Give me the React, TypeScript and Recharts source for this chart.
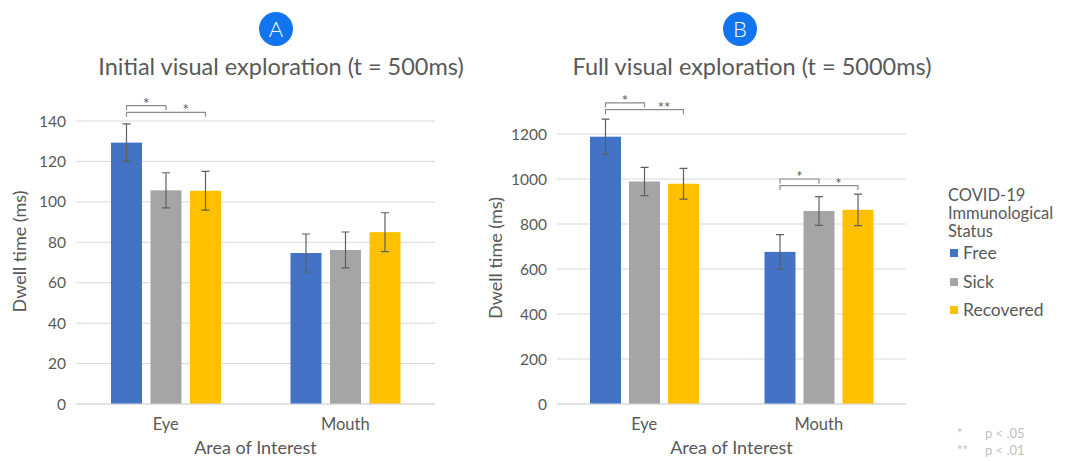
import { Bar, BarChart, CartesianGrid, XAxis, YAxis } from "recharts"

const categories = ["Eye", "Mouth"]

const initialFree = [129.3, 74.7]
const initialFreeErr = [9.3, 9.4]
const initialSick = [105.7, 76.2]
const initialSickErr = [8.7, 8.9]
const initialRecovered = [105.5, 85.0]
const initialRecoveredErr = [9.6, 9.6]

const fullFree = [1188, 676]
const fullFreeErr = [78, 77]
const fullSick = [989, 858]
const fullSickErr = [63, 64]
const fullRecovered = [979, 863]
const fullRecoveredErr = [68, 70]

const initialTicks = [0, 20, 40, 60, 80, 100, 120, 140]
const fullTicks = [0, 200, 400, 600, 800, 1000, 1200]

// significance brackets: start at Free, end `step` bars to the right
const initialBrackets = [
  { category: "Eye", step: 1, level: 147.6, label: "*" },
  { category: "Eye", step: 2, level: 144.3, label: "*" },
]
const fullBrackets = [
  { category: "Eye", step: 1, level: 1338, label: "*" },
  { category: "Eye", step: 2, level: 1308, label: "**" },
  { category: "Mouth", step: 1, level: 1000, label: "*" },
  { category: "Mouth", step: 2, level: 971, label: "*" },
]

const SERIES = [
  { key: "free", name: "Free", color: "#4472c4" },
  { key: "sick", name: "Sick", color: "#a5a5a5" },
  { key: "recovered", name: "Recovered", color: "#ffc000" },
]

const TEXT = "#595959"
const FONT = "Lato, 'Open Sans', sans-serif"

function buildData(free, freeErr, sick, sickErr, rec, recErr) {
  return categories.map((category, i) => ({
    category,
    free: free[i],
    freeErr: freeErr[i],
    sick: sick[i],
    sickErr: sickErr[i],
    recovered: rec[i],
    recoveredErr: recErr[i],
  }))
}

const initialData = buildData(
  initialFree, initialFreeErr, initialSick, initialSickErr, initialRecovered, initialRecoveredErr
)
const fullData = buildData(fullFree, fullFreeErr, fullSick, fullSickErr, fullRecovered, fullRecoveredErr)

/**
 * Bar shape with its error whisker (and, for Free, the significance brackets).
 * Everything is placed with the bar's own scale so the y domain stays fixed.
 */
function makeShape(key, brackets, barGap) {
  return (props) => {
    const { x, y, width, height, fill, payload } = props
    const base = y + height
    const pxPerUnit = height / payload[key]
    const toY = (v) => base - v * pxPerUnit
    const center = x + width / 2
    const step = width + barGap
    const err = payload[`${key}Err`]
    const hi = toY(payload[key] + err)
    const lo = toY(payload[key] - err)
    return (
      <g>
        <rect x={x} y={y} width={width} height={height} fill={fill} />
        <path
          d={`M${center},${hi}V${lo}M${center - 4},${hi}H${center + 4}M${center - 4},${lo}H${center + 4}`}
          stroke="#5f5f5f"
          strokeWidth={1.2}
          fill="none"
        />
        {key === "free" &&
          brackets
            .filter((b) => b.category === payload.category)
            .map((b, i) => {
              const by = toY(b.level)
              const x2 = center + b.step * step
              const lx = center + (b.step - 0.5) * step
              return (
                <g key={i}>
                  <path
                    d={`M${center},${by + 4.5}V${by}H${x2}V${by + 4.5}`}
                    fill="none"
                    stroke="#8c8c8c"
                    strokeWidth={1.2}
                  />
                  <text
                    x={lx}
                    y={by + 3}
                    textAnchor="middle"
                    fontSize={15}
                    fill={TEXT}
                    fontFamily={FONT}
                  >
                    {b.label}
                  </text>
                </g>
              )
            })}
      </g>
    )
  }
}

function Panel({ data, ticks, brackets, left, width, margin, yAxisWidth, barSize, barGap }) {
  return (
    <div style={{ position: "absolute", left, top: 0 }}>
      <BarChart
        width={width}
        height={461}
        data={data}
        margin={margin}
        barSize={barSize}
        barGap={barGap}
        style={{ fontFamily: FONT }}
      >
        <CartesianGrid vertical={false} stroke="#d9d9d9" />
        <XAxis
          dataKey="category"
          axisLine={{ stroke: "#d9d9d9" }}
          tickLine={false}
          tickMargin={8}
          height={50}
          tick={{ fill: TEXT, fontSize: 16.5 }}
          label={{ value: "Area of Interest", position: "insideBottom", offset: 0, fill: TEXT, fontSize: 18 }}
        />
        <YAxis
          domain={[0, ticks[ticks.length - 1]]}
          ticks={ticks}
          interval={0}
          axisLine={false}
          tickLine={false}
          tickMargin={4}
          width={yAxisWidth}
          tick={{ fill: TEXT, fontSize: 15.5 }}
          label={{
            value: "Dwell time (ms)",
            angle: -90,
            position: "insideLeft",
            offset: 4,
            dy: -11,
            fill: TEXT,
            fontSize: 18,
            style: { textAnchor: "middle" },
          }}
        />
        {SERIES.map((s) => (
          <Bar
            key={s.key}
            dataKey={s.key}
            name={s.name}
            fill={s.color}
            isAnimationActive={false}
            shape={makeShape(s.key, brackets, barGap)}
          />
        ))}
      </BarChart>
    </div>
  )
}

function Badge({ letter, cx }) {
  return (
    <div
      style={{
        position: "absolute",
        left: cx - 17,
        top: 12,
        width: 34,
        height: 34,
        borderRadius: "50%",
        background: "#1175f0",
        color: "#fff",
        fontSize: 22,
        lineHeight: "34px",
        textAlign: "center",
        fontFamily: FONT,
        fontWeight: 300,
      }}
    >
      {letter}
    </div>
  )
}

function Title({ text, cx }) {
  return (
    <div
      style={{
        position: "absolute",
        left: cx - 250,
        width: 500,
        top: 52,
        textAlign: "center",
        fontSize: 23.5,
        color: TEXT,
        fontFamily: FONT,
        whiteSpace: "nowrap",
      }}
    >
      {text}
    </div>
  )
}

export default function App() {
  return (
    <div
      style={{
        position: "absolute",
        left: 0,
        top: 0,
        width: 1067,
        height: 461,
        background: "#fff",
        fontFamily: FONT,
        overflow: "hidden",
      }}
    >
      <Panel
        data={initialData}
        ticks={initialTicks}
        brackets={initialBrackets}
        left={0}
        width={460}
        margin={{ top: 121, right: 25, bottom: 7, left: 16 }}
        yAxisWidth={60}
        barSize={31}
        barGap={8.5}
      />
      <Panel
        data={fullData}
        ticks={fullTicks}
        brackets={fullBrackets}
        left={470}
        width={930 - 470}
        margin={{ top: 134, right: 24, bottom: 7, left: 22 }}
        yAxisWidth={65}
        barSize={31}
        barGap={8}
      />
      <Badge letter="A" cx={276} />
      <Badge letter="B" cx={740} />
      <Title text="Initial visual exploration (t = 500ms)" cx={281} />
      <Title text="Full visual exploration (t = 5000ms)" cx={752} />

      <div style={{ position: "absolute", left: 948, top: 186, color: TEXT, fontSize: 16.5, lineHeight: "18px" }}>
        COVID-19
        <br />
        Immunological
        <br />
        Status
      </div>
      {SERIES.map((s, i) => (
        <div
          key={s.key}
          style={{
            position: "absolute",
            left: 950,
            top: 243 + i * 28.5,
            display: "flex",
            alignItems: "center",
            color: TEXT,
            fontSize: 17.5,
            lineHeight: "20px",
          }}
        >
          <span style={{ width: 8, height: 8, background: s.color, marginRight: 5, display: "inline-block" }} />
          {s.name}
        </div>
      ))}

      <div style={{ position: "absolute", left: 957, top: 425, color: "#bfbfbf", fontSize: 13, lineHeight: "17px" }}>
        <div>
          <span style={{ display: "inline-block", width: 28 }}>*</span>p &lt; .05
        </div>
        <div>
          <span style={{ display: "inline-block", width: 28 }}>**</span>p &lt; .01
        </div>
      </div>
    </div>
  )
}
